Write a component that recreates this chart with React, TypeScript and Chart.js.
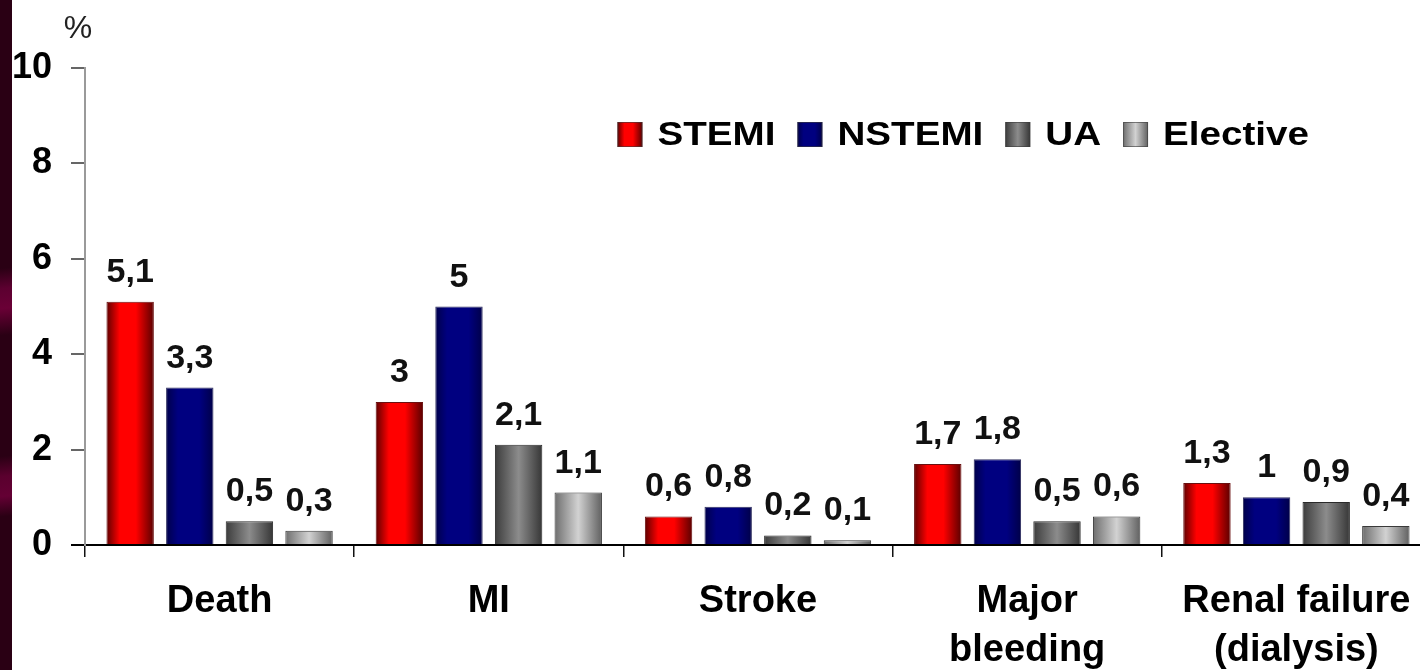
import React, { useEffect, useRef } from 'react';
import { Chart, registerables } from 'chart.js';

Chart.register(...registerables);

// ---- data ----
const categories: (string | string[])[] = ['Death', 'MI', 'Stroke', ['Major', 'bleeding'], ['Renal failure', '(dialysis)']];
const seriesNames = ['STEMI', 'NSTEMI', 'UA', 'Elective'];
const stemiValues = [5.1, 3, 0.6, 1.7, 1.3];
const nstemiValues = [3.3, 5, 0.8, 1.8, 1];
const uaValues = [0.5, 2.1, 0.2, 0.5, 0.9];
const electiveValues = [0.3, 1.1, 0.1, 0.6, 0.4];
const yMin = 0;
const yMax = 10;
const yStep = 2;
const unitLabel = '%';

// ---- styles ----
const FONT = "'Liberation Sans', Arial, Helvetica, sans-serif";
const gradientStops: [number, string][][] = [
  [[0, '#5e0000'], [0.28, '#ff0000'], [0.62, '#ff0000'], [1, '#5a0000']],
  [[0, '#00004a'], [0.25, '#000080'], [0.7, '#000080'], [1, '#000048']],
  [[0, '#3c3c3c'], [0.5, '#8c8c8c'], [1, '#363636']],
  [[0, '#6e6e6e'], [0.5, '#d2d2d2'], [1, '#606060']],
];
const flatColors = ['#ff0000', '#000080', '#707070', '#b0b0b0'];
const borderColors = ['#6a1010', '#303060', '#2a2a2a', '#3a3a3a'];

const CANVAS_W = 1440;
const CANVAS_H = 680;

function makeGradient(ctx: CanvasRenderingContext2D, x0: number, x1: number, di: number) {
  const g = ctx.createLinearGradient(x0, 0, x1, 0);
  gradientStops[di].forEach(([o, c]) => g.addColorStop(o, c));
  return g;
}

const gradientBarsPlugin = {
  id: 'gradientBars',
  beforeDatasetsDraw(chart: any) {
    const ctx = chart.ctx;
    chart.data.datasets.forEach((_ds: any, di: number) => {
      const meta = chart.getDatasetMeta(di);
      meta.data.forEach((el: any) => {
        const { x, width } = el.getProps(['x', 'width'], true);
        const g = makeGradient(ctx, x - width / 2, x + width / 2, di);
        el.options = { ...el.options, backgroundColor: g };
      });
    });
  },
};

const valueLabelsPlugin = {
  id: 'valueLabels',
  afterDatasetsDraw(chart: any) {
    const ctx = chart.ctx;
    ctx.save();
    ctx.font = `bold 34px ${FONT}`;
    ctx.fillStyle = '#111';
    ctx.textAlign = 'center';
    ctx.textBaseline = 'alphabetic';
    chart.data.datasets.forEach((ds: any, di: number) => {
      const meta = chart.getDatasetMeta(di);
      meta.data.forEach((el: any, i: number) => {
        const v = ds.data[i];
        const { x, y } = el.getProps(['x', 'y'], true);
        ctx.fillText(String(v).replace('.', ','), x, y - 20);
      });
    });
    ctx.restore();
  },
};

const legendPlugin = {
  id: 'customLegend',
  afterDraw(chart: any) {
    const ctx = chart.ctx;
    ctx.save();
    const stretch = 1.17;
    ctx.font = `bold 33px ${FONT}`;
    ctx.textBaseline = 'middle';
    ctx.textAlign = 'left';
    const boxW = 25;
    const boxH = 25;
    const gap = 15;
    const spacing = 22;
    const names: string[] = chart.data.datasets.map((d: any) => d.label);
    const widths = names.map((n) => ctx.measureText(n).width * stretch);
    const total = widths.reduce((a, w) => a + boxW + gap + w, 0) + spacing * (names.length - 1);
    const rightEnd = 1309;
    const cy = 134.5;
    let x = rightEnd - total;
    names.forEach((n, di) => {
      ctx.fillStyle = makeGradient(ctx, x, x + boxW, di);
      ctx.fillRect(x, cy - boxH / 2, boxW, boxH);
      ctx.strokeStyle = 'rgba(60,60,60,0.6)';
      ctx.lineWidth = 1;
      ctx.strokeRect(x + 0.5, cy - boxH / 2 + 0.5, boxW - 1, boxH - 1);
      ctx.fillStyle = '#000';
      ctx.save();
      ctx.translate(x + boxW + gap, cy + 1);
      ctx.scale(stretch, 1);
      ctx.fillText(n, 0, 0);
      ctx.restore();
      x += boxW + gap + widths[di] + spacing;
    });
    // unit label above the y axis
    ctx.font = `32px ${FONT}`;
    ctx.textAlign = 'center';
    ctx.textBaseline = 'alphabetic';
    ctx.fillStyle = '#222';
    ctx.fillText(unitLabel, chart.chartArea.left - 7, 38);
    ctx.restore();
  },
};

export default function App() {
  const canvasRef = useRef<HTMLCanvasElement | null>(null);

  useEffect(() => {
    const canvas = canvasRef.current;
    if (!canvas) return;
    const seriesValues = [stemiValues, nstemiValues, uaValues, electiveValues];
    const chart = new Chart(canvas, {
      type: 'bar',
      data: {
        labels: categories as any,
        datasets: seriesNames.map((name, di) => ({
          label: name,
          data: seriesValues[di],
          backgroundColor: flatColors[di],
          borderColor: borderColors[di],
          borderWidth: 1,
          borderSkipped: 'bottom',
          categoryPercentage: 0.886,
          barPercentage: 0.795,
        })),
      },
      options: {
        responsive: false,
        animation: false,
        devicePixelRatio: 1,
        layout: { padding: { left: 0, top: 68, right: 9, bottom: 0 } },
        plugins: {
          legend: { display: false },
          tooltip: { enabled: false },
          title: { display: false },
        },
        scales: {
          x: {
            offset: true,
            border: { display: true, color: '#000', width: 2 },
            grid: {
              offset: true,
              drawOnChartArea: false,
              drawTicks: true,
              tickLength: 12,
              color: '#111',
              lineWidth: 1.5,
            },
            ticks: {
              color: '#000',
              padding: 20,
              maxRotation: 0,
              autoSkip: false,
              font: { family: FONT, size: 38, weight: 'bold', lineHeight: 1.29 },
            },
            afterFit: (s: any) => {
              s.height = CANVAS_H - 545;
            },
          },
          y: {
            min: yMin,
            max: yMax,
            border: { display: true, color: '#9a9a9a', width: 2 },
            grid: {
              drawOnChartArea: false,
              drawTicks: true,
              tickLength: 14,
              color: (c: any) => (c.tick && c.tick.value === 0 ? '#000' : '#666'),
              lineWidth: 2,
            },
            ticks: {
              stepSize: yStep,
              color: '#000',
              padding: 19,
              font: { family: FONT, size: 36, weight: 'bold' },
            },
            afterFit: (s: any) => {
              s.width = 85;
            },
          },
        },
      },
      plugins: [gradientBarsPlugin, valueLabelsPlugin, legendPlugin],
    } as any);
    return () => chart.destroy();
  }, []);

  return (
    <div
      style={{
        position: 'fixed',
        left: 0,
        top: 0,
        width: 1420,
        height: 670,
        overflow: 'hidden',
        background: '#ffffff',
      }}
    >
      <canvas
        ref={canvasRef}
        width={CANVAS_W}
        height={CANVAS_H}
        style={{ position: 'absolute', left: 0, top: 0 }}
      />
      <div
        style={{
          position: 'absolute',
          left: 0,
          top: 0,
          width: 12,
          height: 670,
          background:
            'linear-gradient(174deg, #2a0014 0%, #2a0014 40%, #5c0030 43%, #6a0036 46%, #2a0014 50%, #2a0014 68%, #5a002e 71%, #640034 74%, #2a0014 77%, #2a0014 100%)',
        }}
      />
    </div>
  );
}
